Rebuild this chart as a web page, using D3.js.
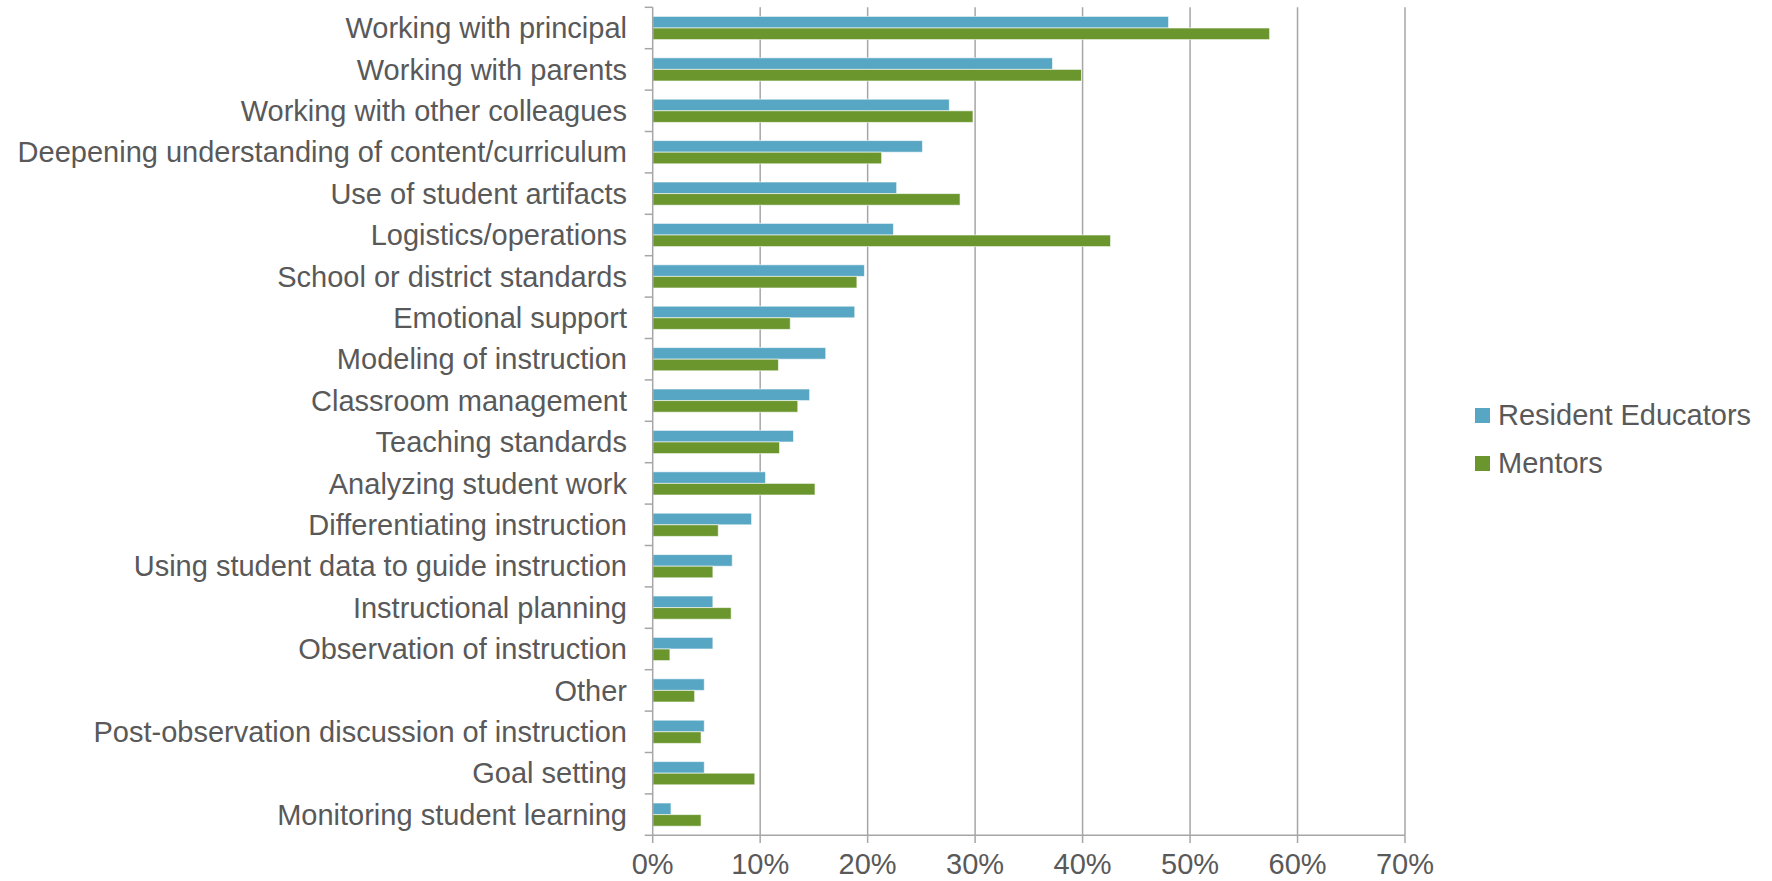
<!DOCTYPE html>
<html>
<head>
<meta charset="utf-8">
<script src="https://cdn.jsdelivr.net/npm/d3@7"></script>
<style>
  html, body { margin: 0; padding: 0; background: #ffffff; }
  svg { display: block; font-family: "Liberation Sans", Arial, sans-serif; }
</style>
</head>
<body>
<svg id="chart" width="1772" height="881"></svg>
<script>
const categories = [
  "Working with principal",
  "Working with parents",
  "Working with other colleagues",
  "Deepening understanding of content/curriculum",
  "Use of student artifacts",
  "Logistics/operations",
  "School or district standards",
  "Emotional support",
  "Modeling of instruction",
  "Classroom management",
  "Teaching standards",
  "Analyzing student work",
  "Differentiating instruction",
  "Using student data to guide instruction",
  "Instructional planning",
  "Observation of instruction",
  "Other",
  "Post-observation discussion of instruction",
  "Goal setting",
  "Monitoring student learning"
];
const seriesNames = ["Resident Educators", "Mentors"];
const residentEducators = [48.0, 37.2, 27.6, 25.1, 22.7, 22.4, 19.7, 18.8, 16.1, 14.6, 13.1, 10.5, 9.2, 7.4, 5.6, 5.6, 4.8, 4.8, 4.8, 1.7];
const mentors = [57.4, 39.9, 29.8, 21.3, 28.6, 42.6, 19.0, 12.8, 11.7, 13.5, 11.8, 15.1, 6.1, 5.6, 7.3, 1.6, 3.9, 4.5, 9.5, 4.5];
const xTicks = [0, 10, 20, 30, 40, 50, 60, 70];
const tickLabels = ["0%", "10%", "20%", "30%", "40%", "50%", "60%", "70%"];
const colors = ["#57a6c3", "#6a962d"];

const svg = d3.select("#chart");
const textColor = "#595959";
const gridColor = "#a6a6a6";
const fontSize = 29;

const x = d3.scaleLinear().domain([0, 70]).range([652.7, 1405]);
const y = d3.scaleBand().domain(categories).range([7.3, 835.3]).paddingInner(0.44).paddingOuter(0.22);
const ySub = d3.scaleBand().domain(seriesNames).range([0, y.bandwidth()]);

// gridlines
svg.append("g").selectAll("line")
  .data(xTicks.slice(1))
  .join("line")
  .attr("x1", d => x(d)).attr("x2", d => x(d))
  .attr("y1", 7.3).attr("y2", 835.3)
  .attr("stroke", gridColor).attr("stroke-width", 1.5);

// bars
const data = categories.map((c, i) => ({ cat: c, vals: [residentEducators[i], mentors[i]] }));
const groups = svg.append("g").selectAll("g")
  .data(data).join("g")
  .attr("transform", d => `translate(0,${y(d.cat)})`);
groups.selectAll("rect")
  .data(d => d.vals.map((v, j) => ({ v, s: seriesNames[j], j })))
  .join("rect")
  .attr("x", x(0))
  .attr("y", d => ySub(d.s))
  .attr("width", d => x(d.v) - x(0))
  .attr("height", ySub.bandwidth())
  .attr("fill", d => colors[d.j])
  .attr("stroke", "rgba(255,255,255,0.6)")
  .attr("stroke-width", 1);

// y axis line and ticks at category boundaries
const boundaries = d3.range(categories.length + 1).map(i => 7.3 + i * y.step());
svg.append("line")
  .attr("x1", x(0)).attr("x2", x(0)).attr("y1", 7.3).attr("y2", 835.3)
  .attr("stroke", gridColor).attr("stroke-width", 1.5);
svg.append("g").selectAll("line")
  .data(boundaries).join("line")
  .attr("x1", x(0) - 8).attr("x2", x(0))
  .attr("y1", d => d).attr("y2", d => d)
  .attr("stroke", gridColor).attr("stroke-width", 1.5);

// y labels
svg.append("g").selectAll("text")
  .data(categories).join("text")
  .attr("x", 627)
  .attr("y", d => y(d) + y.bandwidth() / 2)
  .attr("dy", "0.35em")
  .attr("text-anchor", "end")
  .attr("fill", textColor)
  .attr("font-size", fontSize)
  .text(d => d);

// x axis
svg.append("line")
  .attr("x1", x(0)).attr("x2", x(70)).attr("y1", 835.3).attr("y2", 835.3)
  .attr("stroke", gridColor).attr("stroke-width", 1.5);
svg.append("g").selectAll("line")
  .data(xTicks).join("line")
  .attr("x1", d => x(d)).attr("x2", d => x(d))
  .attr("y1", 835.3).attr("y2", 843)
  .attr("stroke", gridColor).attr("stroke-width", 1.5);
svg.append("g").selectAll("text")
  .data(xTicks).join("text")
  .attr("x", d => x(d))
  .attr("y", 874)
  .attr("text-anchor", "middle")
  .attr("fill", textColor)
  .attr("font-size", fontSize)
  .text((d, i) => tickLabels[i]);

// legend
const legend = svg.append("g").selectAll("g")
  .data(seriesNames).join("g")
  .attr("transform", (d, i) => `translate(1475,${408 + i * 48})`);
legend.append("rect")
  .attr("width", 15).attr("height", 15)
  .attr("fill", (d, i) => colors[i]);
legend.append("text")
  .attr("x", 23).attr("y", 17)
  .attr("fill", textColor)
  .attr("font-size", fontSize)
  .text(d => d);
</script>
</body>
</html>
